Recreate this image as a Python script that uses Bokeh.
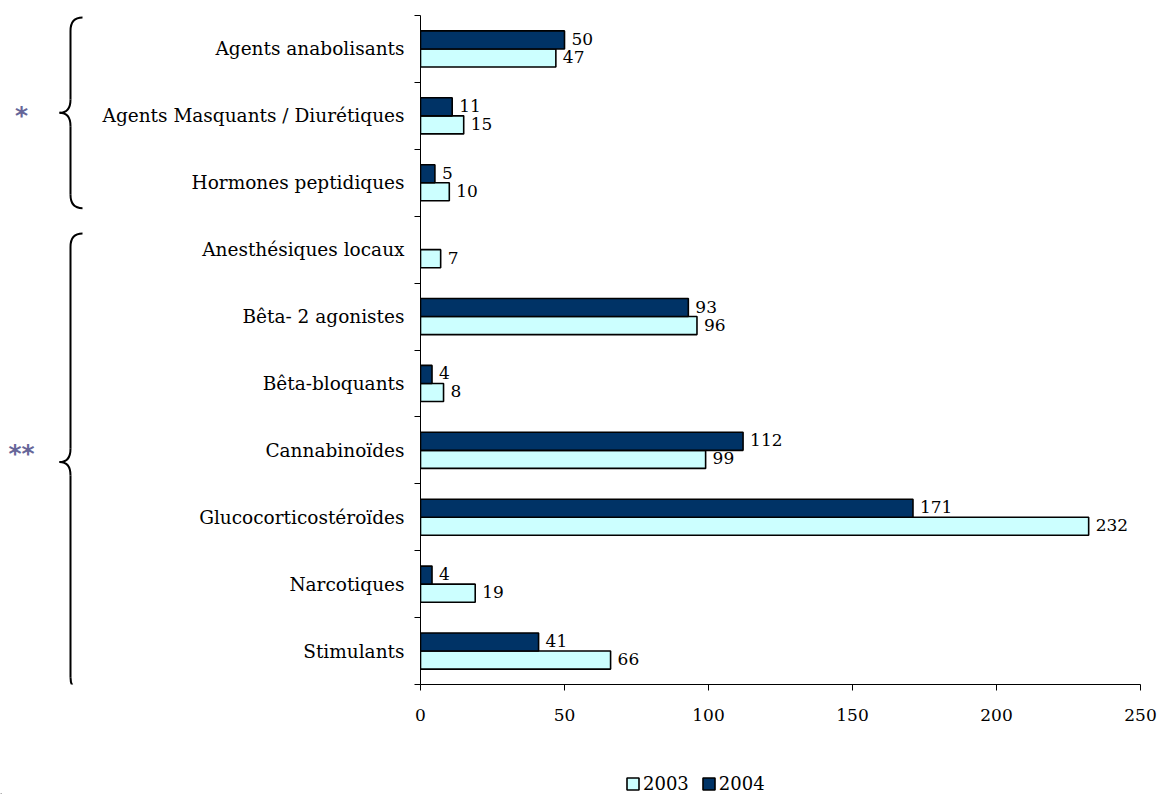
from bokeh.plotting import figure
from bokeh.models import Range1d, FixedTicker, Legend, LegendItem, ColumnDataSource
from bokeh.layouts import row, column
from bokeh.core.properties import value
from bokeh.embed import file_html
from bokeh.resources import INLINE

# ---------------- data ----------------
categories = ["Agents anabolisants", "Agents Masquants / Diurétiques", "Hormones peptidiques",
              "Anesthésiques locaux", "Bêta- 2 agonistes", "Bêta-bloquants", "Cannabinoïdes",
              "Glucocorticostéroïdes", "Narcotiques", "Stimulants"]
values_2003 = [47, 15, 10, 7, 96, 8, 99, 232, 19, 66]
values_2004 = [50, 11, 5, None, 93, 4, 112, 171, 4, 41]
series_names = ["2003", "2004"]
group_marks = ["*", "**"]
group_bounds = [(0, 3), (3, 10)]
x_ticks = [0, 50, 100, 150, 200, 250]

FONT = "DejaVu Serif"
LIGHT = "#CCFFFF"
DARK = "#003366"
STAR = "#666699"

n = len(categories)
centers = [n - i - 0.5 for i in range(n)]
boundaries = list(range(n + 1))
BAR_H = 0.27
OFF = 0.135

def series_source(vals, offset):
    ys, xs, labels = [], [], []
    for c, v in zip(centers, vals):
        if v is None:
            continue
        ys.append(c + offset)
        xs.append(v)
        labels.append(str(v))
    return ColumnDataSource(dict(y=ys, right=xs, label=labels))

src03 = series_source(values_2003, -OFF)
src04 = series_source(values_2004, OFF)

yr = Range1d(0, n)
H = 770
TOP = 15
BOTTOM = 86
LEFT_W = 92
MAIN_W = 1069

# ---------------- main chart ----------------
p = figure(width=MAIN_W, height=H, x_range=Range1d(0, 250), y_range=yr,
           output_backend="svg", toolbar_location=None,
           min_border_left=328, min_border_right=21, min_border_top=TOP, min_border_bottom=BOTTOM)
p.xgrid.visible = False
p.ygrid.visible = False
p.outline_line_color = None
p.background_fill_color = "white"

bar_style = dict(line_color="black", line_width=1.6)
p.hbar(y="y", right="right", left=0, height=BAR_H, source=src03, fill_color=LIGHT, **bar_style)
p.hbar(y="y", right="right", left=0, height=BAR_H, source=src04, fill_color=DARK, **bar_style)

for src in (src03, src04):
    p.text(x="right", y="y", text="label", source=src, x_offset=7, y_offset=-1,
           text_font=value(FONT), text_font_size="17px", text_color="black",
           text_align="left", text_baseline="middle")

xa = p.xaxis[0]
xa.ticker = FixedTicker(ticks=x_ticks)
xa.major_tick_in = 0
xa.major_tick_out = 6
xa.minor_tick_in = 0
xa.minor_tick_out = 0
xa.axis_line_color = "black"
xa.major_tick_line_color = "black"
xa.major_label_text_font = FONT
xa.major_label_text_font_size = "17px"
xa.major_label_text_color = "black"
xa.major_label_standoff = 18

ya = p.yaxis[0]
ya.ticker = FixedTicker(ticks=centers, minor_ticks=boundaries)
ya.major_label_overrides = {c: name for c, name in zip(centers, categories)}
ya.major_tick_line_color = None
ya.major_tick_in = 0
ya.major_tick_out = 6
ya.minor_tick_line_color = "black"
ya.minor_tick_in = 0
ya.minor_tick_out = 6
ya.axis_line_color = "black"
ya.major_label_text_font = FONT
ya.major_label_text_font_size = "18.5px"
ya.major_label_text_color = "black"
ya.major_label_standoff = 10

# ---------------- braces panel ----------------
lf = figure(width=LEFT_W, height=H, x_range=Range1d(0, LEFT_W), y_range=yr,
            x_axis_type=None, y_axis_type=None,
            output_backend="svg", toolbar_location=None,
            min_border_left=0, min_border_right=0, min_border_top=TOP, min_border_bottom=BOTTOM)
lf.grid.visible = False
lf.outline_line_color = None

XE, XV, XT = 82, 70, 59   # brace end, spine, tip (pixels inside this panel)
R = 0.2
insets = [(0.03, 0.12), (0.26, -0.09)]
star_shift = [3, -9]      # pixel nudge of the group marks relative to the brace tip
qx0, qy0, qx1, qy1, qcx, qcy = [], [], [], [], [], []
sx0, sy0, sx1, sy1 = [], [], [], []
tx, ty, tt, toff = [], [], [], []
for (s, e), (it, ib), mark, sh in zip(group_bounds, insets, group_marks, star_shift):
    top = n - s - it
    bot = n - e + ib
    mid = (top + bot) / 2
    qx0 += [XE, XV, XT, XV]
    qy0 += [top, mid + R, mid, bot + R]
    qx1 += [XV, XT, XV, XE]
    qy1 += [top - R, mid, mid - R, bot]
    qcx += [XV, XV, XV, XV]
    qcy += [top, mid, mid, bot]
    sx0 += [XV, XV]
    sy0 += [top - R, mid - R]
    sx1 += [XV, XV]
    sy1 += [mid + R, bot + R]
    tx.append(21)
    ty.append(mid)
    tt.append(mark)
    toff.append(sh)

lf.quadratic(x0=qx0, y0=qy0, x1=qx1, y1=qy1, cx=qcx, cy=qcy, line_color="black", line_width=2)
lf.segment(x0=sx0, y0=sy0, x1=sx1, y1=sy1, line_color="black", line_width=2)
lf.text(x="x", y="y", text="t", y_offset="off",
        source=ColumnDataSource(dict(x=tx, y=ty, t=tt, off=toff)),
        text_font=value("DejaVu Sans"), text_font_size="25px",
        text_color=STAR, text_align="center", text_baseline="middle",
        text_font_style="bold")

# ---------------- legend strip ----------------
LEG_W, LEG_H = LEFT_W + MAIN_W, 24
lg = figure(width=LEG_W, height=LEG_H, x_range=Range1d(0, LEG_W), y_range=Range1d(0, LEG_H),
            x_axis_type=None, y_axis_type=None, output_backend="svg", toolbar_location=None,
            min_border=0)
lg.grid.visible = False
lg.outline_line_color = None
# legend proxies: one hidden bar each, placed below the visible strip
proxy = ColumnDataSource(dict(y=[-LEG_H], right=[1]))
k03 = lg.hbar(y="y", right="right", left=0, height=1, source=proxy, fill_color=LIGHT, **bar_style)
k04 = lg.hbar(y="y", right="right", left=0, height=1, source=proxy, fill_color=DARK, **bar_style)
legend = Legend(items=[LegendItem(label=series_names[0], renderers=[k03]),
                       LegendItem(label=series_names[1], renderers=[k04])],
                location=(625, 0), orientation="horizontal",
                glyph_width=15, glyph_height=15, label_standoff=3, spacing=12,
                padding=0, margin=0, border_line_color=None, background_fill_alpha=0,
                label_text_font=FONT, label_text_font_size="18px", label_text_color="black")
lg.add_layout(legend, "center")

layout = column(row(lf, p), lg)
open("out.html", "w").write(file_html(layout, INLINE))
